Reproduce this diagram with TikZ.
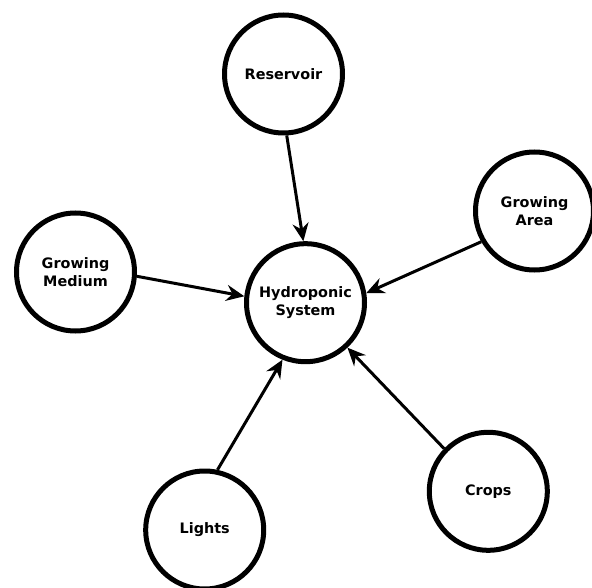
\documentclass[tikz,border=0pt]{standalone}
\usepackage{fontspec}
\setmainfont{DejaVu Sans}
\usetikzlibrary{arrows.meta}
\begin{document}
\begin{tikzpicture}[x=1pt,y=-1pt,
  comp/.style={circle,draw=black,line width=5pt,fill=white,minimum size=118pt,inner sep=0pt,
    align=center,font=\fontsize{14.4}{17.7}\selectfont\bfseries},
  link/.style={line width=3pt,-{Stealth[length=18pt,width=16pt,inset=6pt]}}]
\useasboundingbox (0,0) rectangle (592,588);
\node[comp] (hyd) at (305.5,302.7) {Hydroponic\\System};
\node[comp] (res) at (283.5,74) {Reservoir};
\node[comp] (area) at (534.5,211) {Growing\\Area};
\node[comp] (med) at (75.5,272) {Growing\\Medium};
\node[comp] (crops) at (488.3,491.3) {Crops};
\node[comp] (lights) at (204.7,530) {Lights};
\draw[link] (res.273) -- (hyd.92.4);
\draw[link] (area.210.5) -- (hyd.9.8);
\draw[link] (med.-4.8) -- (hyd.174.5);
\draw[link] (crops.136.7) -- (hyd.313.7);
\draw[link] (lights.78.5) -- (hyd.248.5);
\end{tikzpicture}
\end{document}
